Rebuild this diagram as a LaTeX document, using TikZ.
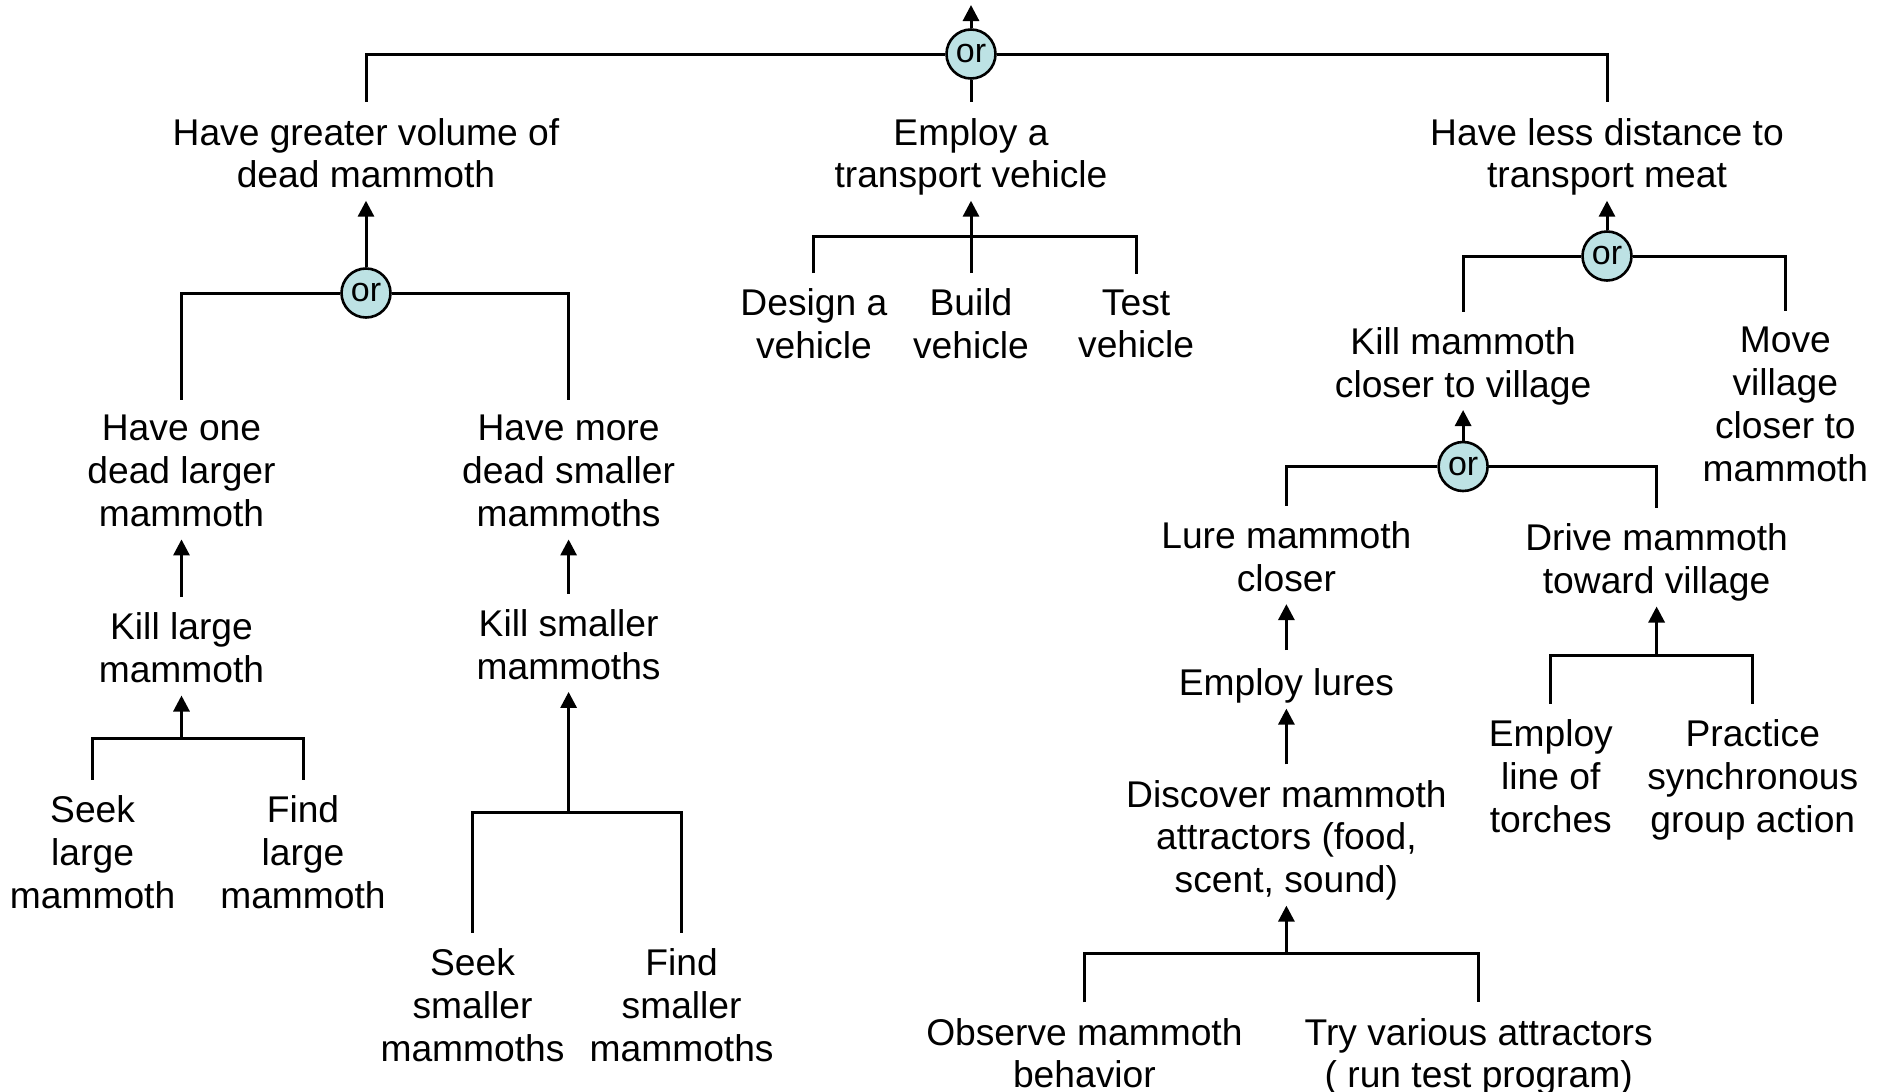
\documentclass[tikz,border=0pt]{standalone}
\usepackage{fontspec}
\setmainfont{Liberation Sans}
\usetikzlibrary{arrows.meta}
\definecolor{orfill}{RGB}{189,226,228}
\begin{document}
\begin{tikzpicture}[x=0.5pt,y=-0.5pt,
  lbl/.style={align=center, inner sep=0pt, yshift=-1.2pt, font=\fontsize{18.6}{21.4}\selectfont,
    execute at begin node=\strut, execute at end node=\strut},
  ornode/.style={circle, draw, line width=1.3pt, fill=orfill, minimum size=24.5pt,
    inner sep=0pt, font=\fontsize{17}{20}\selectfont},
  conn/.style={line width=1.5pt},
  drop/.style={conn, shorten <=7.7pt, shorten >=7.7pt},
  fromor/.style={conn, shorten >=7.7pt},
  arr/.style={conn, -{Triangle[width=8pt,length=8pt]}, shorten >=-0.2pt},
  arrn/.style={arr, shorten <=7.7pt},
]
\useasboundingbox (0,0) rectangle (1885,1092);

% top level
\coordinate (top) at (971,5);
\node[ornode] (or0) at (971,54) {or};
\node[lbl] (gv) at (366,157) {Have greater volume of\\dead mammoth};
\node[lbl] (tv) at (971,157) {Employ a\\transport vehicle};
\node[lbl] (ld) at (1607,157) {Have less distance to\\transport meat};

% left subtree
\node[ornode] (or1) at (366,293) {or};
\node[lbl] (one) at (181.5,475) {Have one\\dead larger\\mammoth};
\node[lbl] (more) at (568.6,475) {Have more\\dead smaller\\mammoths};
\node[lbl] (kl) at (181.5,651.8) {Kill large\\mammoth};
\node[lbl] (ks) at (568.6,648.2) {Kill smaller\\mammoths};
\coordinate (jkl) at (181.5,738.2);
\node[lbl] (sl) at (92.6,856) {Seek\\large\\mammoth};
\node[lbl] (fl) at (303,856) {Find\\large\\mammoth};
\coordinate (jks) at (568.6,812.7);
\node[lbl] (ss) at (472.5,1008.8) {Seek\\smaller\\mammoths};
\node[lbl] (fs) at (681.6,1008.8) {Find\\smaller\\mammoths};

% center subtree
\coordinate (jtv) at (971,236.8);
\node[lbl] (dv) at (813.9,327.8) {Design a\\vehicle};
\node[lbl] (bv) at (971,327.8) {Build\\vehicle};
\node[lbl] (tsv) at (1136.1,327.8) {Test\\vehicle};

% right subtree
\node[ornode] (or2) at (1607,256) {or};
\node[lbl] (km) at (1463.1,366.3) {Kill mammoth\\closer to village};
\node[lbl] (mv) at (1785.3,408.3) {Move\\village\\closer to\\mammoth};
\node[ornode] (or3) at (1463.1,466.5) {or};
\node[lbl] (lmc) at (1286.4,560.4) {Lure mammoth\\closer};
\node[lbl] (dmt) at (1656.6,562.8) {Drive mammoth\\toward village};
\node[lbl] (el) at (1286.4,684.8) {Employ lures};
\node[lbl] (dma) at (1286.4,840.5) {Discover mammoth\\attractors (food,\\scent, sound)};
\coordinate (jdma) at (1286.4,953.3);
\node[lbl] (omb) at (1084.4,1057) {Observe mammoth\\behavior};
\node[lbl] (tva) at (1478.7,1057) {Try various attractors\\( run test program)};
\coordinate (jdmt) at (1656.6,655.2);
\node[lbl] (elt) at (1550.8,779.8) {Employ\\line of\\torches};
\node[lbl] (psg) at (1752.8,779.8) {Practice\\synchronous\\group action};

% connectors: top
\draw[arr, shorten >=0pt] (or0.north) -- (top);
\draw[fromor] (or0.west) -| (gv.north);
\draw[fromor] (or0.east) -| (ld.north);
\draw[fromor] (or0.south) -- (tv.north);

% left
\draw[arr] (or1.north) -- (gv.south);
\draw[fromor] (or1.west) -| (one.north);
\draw[fromor] (or1.east) -| (more.north);
\draw[arrn] (kl.north) -- (one.south);
\draw[arrn] (ks.north) -- (more.south);
\draw[drop] (sl.north) |- (jkl) -| (fl.north);
\draw[arr] (jkl) -- (kl.south);
\draw[drop] (ss.north) |- (jks) -| (fs.north);
\draw[arr] (jks) -- (ks.south);

% center
\draw[drop] (dv.north) |- (jtv) -| (tsv.north);
\draw[arrn] (bv.north) -- (tv.south);

% right
\draw[arr] (or2.north) -- (ld.south);
\draw[fromor] (or2.west) -| (km.north);
\draw[fromor] (or2.east) -| (mv.north);
\draw[arr] (or3.north) -- (km.south);
\draw[fromor] (or3.west) -| (lmc.north);
\draw[fromor] (or3.east) -| (dmt.north);
\draw[arrn] (el.north) -- (lmc.south);
\draw[arrn] (dma.north) -- (el.south);
\draw[drop] (omb.north) |- (jdma) -| (tva.north);
\draw[arr] (jdma) -- (dma.south);
\draw[drop] (elt.north) |- (jdmt) -| (psg.north);
\draw[arr] (jdmt) -- (dmt.south);
\end{tikzpicture}
\end{document}
